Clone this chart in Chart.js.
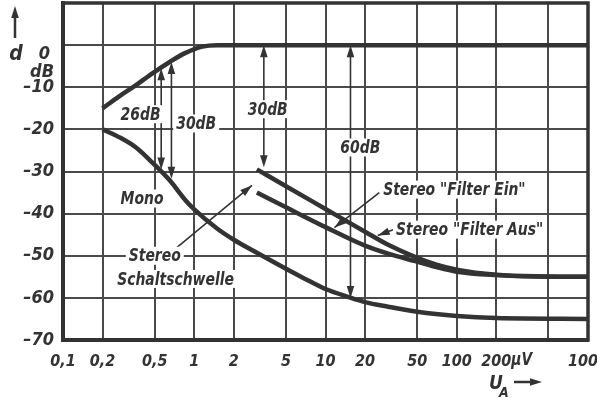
<!DOCTYPE html>
<html lang="de">
<head>
<meta charset="UTF-8">
<title>Übersprechdämpfung</title>
<script src="https://cdn.jsdelivr.net/npm/chart.js@4"></script>
<style>
  html, body { margin: 0; padding: 0; background: #fff; }
</style>
</head>
<body>
<canvas id="chart" width="597" height="405"></canvas>
<script>
// Achsen
var xTicks = [0.1, 0.2, 0.5, 1, 2, 5, 10, 20, 50, 100, 200, 500, 1000];
var xTickLabels = ['0,1', '0,2', '0,5', '1', '2', '5', '10', '20', '50', '100', '200', '', '1000'];
var yTicks = [-70, -60, -50, -40, -30, -20, -10, 0, 10];
var yTickLabels = ['\u201370', '\u201360', '\u201350', '\u201340', '\u201330', '\u201320', '\u201310', ['', '', '0\u2005', 'dB'], ''];

// Kurven (U_A in µV, d in dB)
var refX = [0.2, 0.27, 0.36, 0.48, 0.65, 0.85, 1.15, 1.5, 1000];
var refY = [-15, -12.1, -9.5, -6.7, -4.0, -1.9, -0.35, 0, 0];
var monoX = [0.2, 0.27, 0.36, 0.48, 0.65, 0.85, 1, 1.5, 2, 3, 5, 7, 10, 15, 20, 30, 50, 100, 200, 1000];
var monoY = [-20, -21.9, -24.3, -27.9, -32.1, -36.7, -39, -43.6, -46.2, -49.3, -53.1, -55.5, -57.9, -59.8, -61, -62.1, -63.3, -64.3, -64.8, -65];
var einX = [3, 5, 10, 20, 30, 50, 70, 100, 200, 500, 1000];
var einY = [-29.5, -33.5, -38.9, -44.3, -47.4, -50.5, -52.1, -53.3, -54.5, -54.9, -55];
var ausX = [3, 5, 10, 20, 30, 50, 70, 100, 200, 500, 1000];
var ausY = [-35, -38.5, -43.2, -47.6, -49.5, -51.4, -52.7, -53.8, -54.6, -55, -55];

// Bemaßungspfeile: x, oberes Ende, unteres Ende
var dbArrowX = [0.56, 0.67, 3.39, 15.5];
var dbArrowTop = [-5.5, -4, 0, 0];
var dbArrowBottom = [-29.5, -31.7, -29, -60];

// Hinweislinien: Start -> Pfeilspitze
var leaderFrom = [[0.72, -48.3], [25.7, -35], [32.7, -43.8]];
var leaderTo = [[2.75, -33.3], [11.7, -43.3], [25, -45.2]];

// Beschriftungen im Diagramm
var noteText = ['26dB', '30dB', '30dB', '60dB', 'Mono', 'Stereo', 'Schaltschwelle', 'Stereo "Filter Ein"', 'Stereo "Filter Aus"'];
var noteX = [0.39, 1.035, 3.63, 18.4, 0.4, 0.5, 0.72, 27.5, 34.5];
var noteY = [-16.4, -18.6, -15.2, -24.3, -36.4, -50, -55.5, -34.3, -43.8];
var noteAlign = ['center', 'center', 'center', 'center', 'center', 'center', 'center', 'left', 'left'];

var ink = '#333';
var gridInk = '#4a4a4a';
var fontFam = '"DejaVu Sans Condensed", "DejaVu Sans", sans-serif';

function pts(xs, ys) {
    return xs.map(function (x, i) { return { x: x, y: ys[i] }; });
}

function head(ctx, x0, y0, x1, y1) {
    var a = Math.atan2(y1 - y0, x1 - x0), len = 12, w = 3.8;
    ctx.beginPath();
    ctx.moveTo(x1, y1);
    ctx.lineTo(x1 - len * Math.cos(a) + w * Math.sin(a), y1 - len * Math.sin(a) - w * Math.cos(a));
    ctx.lineTo(x1 - len * Math.cos(a) - w * Math.sin(a), y1 - len * Math.sin(a) + w * Math.cos(a));
    ctx.closePath();
    ctx.fill();
}

// schmal gesetzter Text (die Vorlage nutzt eine Engschrift)
function narrowText(ctx, s, x, y, align, sx) {
    var w = ctx.measureText(s).width * sx;
    var left = align === 'left' ? x : x - w / 2;
    ctx.save();
    ctx.translate(left, y);
    ctx.scale(sx, 1);
    ctx.textAlign = 'left';
    ctx.fillText(s, 0, 0);
    ctx.restore();
    return { left: left, width: w };
}

var notes = {
    id: 'notes',
    afterDatasetsDraw: function (chart) {
        var ctx = chart.ctx, xs = chart.scales.x, ys = chart.scales.y;
        ctx.save();
        ctx.strokeStyle = ink;
        ctx.fillStyle = ink;
        ctx.lineWidth = 1.6;
        dbArrowX.forEach(function (v, i) {
            var x = xs.getPixelForValue(v);
            var t = ys.getPixelForValue(dbArrowTop[i]);
            var b = ys.getPixelForValue(dbArrowBottom[i]);
            ctx.beginPath();
            ctx.moveTo(x, t + 8);
            ctx.lineTo(x, b - 8);
            ctx.stroke();
            head(ctx, x, t + 20, x, t);
            head(ctx, x, b - 20, x, b);
        });
        leaderFrom.forEach(function (f, i) {
            var x0 = xs.getPixelForValue(f[0]), y0 = ys.getPixelForValue(f[1]);
            var x1 = xs.getPixelForValue(leaderTo[i][0]), y1 = ys.getPixelForValue(leaderTo[i][1]);
            ctx.beginPath();
            ctx.moveTo(x0, y0);
            ctx.lineTo(x1, y1);
            ctx.stroke();
            head(ctx, x0, y0, x1, y1);
        });
        ctx.font = 'italic bold 18px ' + fontFam;
        ctx.textBaseline = 'middle';
        noteText.forEach(function (s, i) {
            var x = xs.getPixelForValue(noteX[i]), y = ys.getPixelForValue(noteY[i]);
            var w = ctx.measureText(s).width * 0.86;
            var left = noteAlign[i] === 'left' ? x : x - w / 2;
            ctx.fillStyle = '#fff';
            ctx.fillRect(left - 3, y - 9, w + 6, 18);
            ctx.fillStyle = ink;
            narrowText(ctx, s, left, y + 1, 'left', 0.86);
        });
        ctx.restore();
    },
    afterDraw: function (chart) {
        var ctx = chart.ctx, a = chart.chartArea, xs = chart.scales.x;
        ctx.save();
        ctx.strokeStyle = ink;
        ctx.lineWidth = 3.5;
        ctx.strokeRect(a.left, a.top, a.right - a.left, a.bottom - a.top);
        ctx.fillStyle = ink;
        // y-Achsentitel mit Pfeil
        ctx.lineWidth = 2.5;
        ctx.beginPath();
        ctx.moveTo(15, 38);
        ctx.lineTo(15, 16);
        ctx.stroke();
        head(ctx, 15, 30, 15, 6);
        ctx.font = 'italic bold 21px ' + fontFam;
        ctx.textAlign = 'center';
        ctx.textBaseline = 'middle';
        ctx.fillText('d', 16, 55);
        // µV hinter 200
        ctx.font = 'italic bold 17px ' + fontFam;
        narrowText(ctx, '\u00b5V', xs.getPixelForValue(200) + 15, 361, 'left', 0.9);
        // U_A ->
        ctx.font = 'italic bold 19px ' + fontFam;
        ctx.textAlign = 'left';
        ctx.fillText('U', 489, 384);
        ctx.font = 'italic bold 14px ' + fontFam;
        ctx.fillText('A', 499, 393);
        ctx.lineWidth = 2.5;
        ctx.beginPath();
        ctx.moveTo(514, 382);
        ctx.lineTo(530, 382);
        ctx.stroke();
        head(ctx, 520, 382, 542, 382);
        ctx.restore();
    }
};

function series(xs, ys) {
    return {
        data: pts(xs, ys),
        borderColor: ink,
        borderWidth: 4.5,
        pointRadius: 0,
        fill: false,
        cubicInterpolationMode: 'monotone'
    };
}

var ctx = document.getElementById('chart').getContext('2d');
new Chart(ctx, {
    type: 'line',
    data: {
        datasets: [series(refX, refY), series(monoX, monoY), series(einX, einY), series(ausX, ausY)]
    },
    options: {
        responsive: false,
        animation: false,
        layout: { padding: { top: 3, right: 9, left: 0, bottom: 0 } },
        plugins: { legend: { display: false }, tooltip: { enabled: false } },
        scales: {
            x: {
                type: 'logarithmic',
                min: 0.1,
                max: 1000,
                afterBuildTicks: function (s) { s.ticks = xTicks.map(function (v) { return { value: v }; }); },
                afterFit: function (s) { s.height = 65; s.paddingLeft = 0; s.paddingRight = 0; },
                ticks: {
                    autoSkip: false,
                    maxRotation: 0,
                    padding: 12,
                    color: ink,
                    font: { family: fontFam, size: 16, style: 'italic', weight: 'bold' },
                    callback: function (v, i) { return xTickLabels[i]; }
                },
                grid: { color: gridInk, lineWidth: 2, drawTicks: false },
                border: { color: ink, width: 4 }
            },
            y: {
                min: -70,
                max: 10,
                afterBuildTicks: function (s) { s.ticks = yTicks.map(function (v) { return { value: v }; }); },
                afterFit: function (s) { s.width = 63; s.paddingTop = 0; s.paddingBottom = 0; },
                ticks: {
                    autoSkip: false,
                    padding: 9,
                    color: ink,
                    font: { family: fontFam, size: 18, style: 'italic', weight: 'bold', lineHeight: 1.0 },
                    callback: function (v, i) { return yTickLabels[i]; }
                },
                grid: { color: gridInk, lineWidth: 2, drawTicks: false },
                border: { color: ink, width: 4 }
            }
        }
    },
    plugins: [notes]
});
</script>
</body>
</html>
